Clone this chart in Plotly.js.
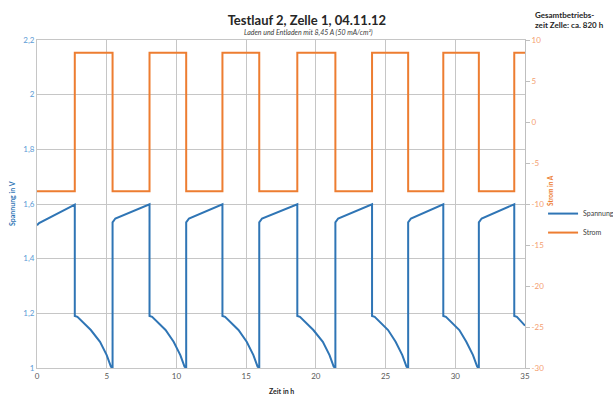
<!DOCTYPE html>
<html>
<head>
<meta charset="utf-8">
<script src="https://cdn.plot.ly/plotly-3.0.1.min.js"></script>
<style>html,body{margin:0;padding:0;background:#fff;}#chart{width:613px;height:401px;}</style>
</head>
<body>
<div id="chart"></div>
<script>
// Spannung (V) over Zeit (h)
var timeV = [
  0, 0.15, 2.71,
  2.71, 2.9, 3.26, 3.86, 4.52, 5.0, 5.3, 5.42,
  5.42, 5.62, 8.07,
  8.07, 8.26, 8.62, 9.22, 9.8, 10.28, 10.58, 10.7,
  10.7, 10.9, 13.3,
  13.3, 13.49, 13.85, 14.45, 15.04, 15.52, 15.82, 15.94,
  15.94, 16.14, 18.67,
  18.67, 18.86, 19.22, 19.82, 20.5, 20.98, 21.28, 21.4,
  21.4, 21.6, 24.03,
  24.03, 24.22, 24.58, 25.18, 25.72, 26.2, 26.5, 26.62,
  26.62, 26.82, 29.14,
  29.14, 29.33, 29.69, 30.29, 30.79, 31.27, 31.57, 31.69,
  31.69, 31.89, 34.23,
  34.23, 34.42, 34.78, 35
];
var voltage = [
  1.522, 1.53, 1.598,
  1.19, 1.187, 1.169, 1.139, 1.096, 1.047, 1.005, 1.0,
  1.533, 1.547, 1.599,
  1.19, 1.187, 1.169, 1.139, 1.096, 1.047, 1.005, 1.0,
  1.533, 1.547, 1.599,
  1.19, 1.187, 1.169, 1.139, 1.096, 1.047, 1.005, 1.0,
  1.533, 1.547, 1.599,
  1.19, 1.187, 1.169, 1.139, 1.096, 1.047, 1.005, 1.0,
  1.533, 1.547, 1.599,
  1.19, 1.187, 1.169, 1.139, 1.096, 1.047, 1.005, 1.0,
  1.533, 1.547, 1.599,
  1.19, 1.187, 1.169, 1.139, 1.096, 1.047, 1.005, 1.0,
  1.533, 1.547, 1.599,
  1.19, 1.187, 1.167, 1.155
];
// Strom (A) step changes over Zeit (h)
var timeI = [0, 2.71, 5.42, 8.07, 10.7, 13.3, 15.94, 18.67, 21.4, 24.03, 26.62, 29.14, 31.69, 34.23, 35];
var current = [-8.45, 8.45, -8.45, 8.45, -8.45, 8.45, -8.45, 8.45, -8.45, 8.45, -8.45, 8.45, -8.45, 8.45, 8.45];

var xTicks = [0, 5, 10, 15, 20, 25, 30, 35];
var yTicksV = [1, 1.2, 1.4, 1.6, 1.8, 2, 2.2];
var yTickTextV = ['1', '1,2', '1,4', '1,6', '1,8', '2', '2,2'];
var yTicksI = [-30, -25, -20, -15, -10, -5, 0, 5, 10];

var blue = '#2f75b5';
var orange = '#ed7d31';
var fnt = 'Lato, "Open Sans", sans-serif';

var traces = [
  {x: timeV, y: voltage, type: 'scatter', mode: 'lines', name: 'Spannung',
   line: {color: blue, width: 2}, yaxis: 'y'},
  {x: timeI, y: current, type: 'scatter', mode: 'lines', name: 'Strom',
   line: {color: orange, width: 2, shape: 'hv'}, yaxis: 'y2'}
];

var layout = {
  width: 613, height: 401,
  margin: {l: 37, r: 88, t: 40, b: 33, autoexpand: false},
  paper_bgcolor: '#fff', plot_bgcolor: '#fff',
  separators: ', ',
  font: {family: fnt, size: 8, color: '#404040'},
  showlegend: true,
  legend: {x: 1.037, y: 0.515, xanchor: 'left', yanchor: 'top',
           font: {family: fnt, size: 7, color: '#404040'}, bgcolor: 'rgba(0,0,0,0)',
           itemwidth: 30, tracegroupgap: 0},
  title: {text: '<b>Testlauf 2, Zelle 1, 04.11.12</b>', x: 0.553, xref: 'paper', xanchor: 'center',
          y: 15, yref: 'container', yanchor: 'middle',
          font: {family: fnt, size: 13, color: '#262626'}},
  xaxis: {range: [0, 35], tickvals: xTicks, ticktext: xTicks.map(String),
          showgrid: true, gridcolor: '#c6c6c6', gridwidth: 1, zeroline: false,
          showline: true, linecolor: '#c6c6c6', mirror: true, ticks: '',
          tickfont: {family: fnt, size: 8, color: '#595959'}},
  yaxis: {range: [1, 2.2], tickvals: yTicksV, ticktext: yTickTextV,
          showgrid: true, gridcolor: '#c6c6c6', gridwidth: 1, zeroline: false,
          showline: true, linecolor: '#c6c6c6', ticks: '',
          tickfont: {family: fnt, size: 8, color: '#5b9bd5'}},
  yaxis2: {range: [-30, 10], tickvals: yTicksI, ticktext: yTicksI.map(String),
           overlaying: 'y', side: 'right', showgrid: false, zeroline: false,
           showline: true, linecolor: '#bfbfbf', ticks: 'outside', ticklen: 4, tickcolor: '#bfbfbf',
           tickfont: {family: fnt, size: 8, color: '#f4a070'}},
  annotations: [
    {text: '<i>Laden und Entladen mit 8,45 A (50 mA/cm²)</i>', xref: 'paper', yref: 'paper',
     x: 0.556, y: 1.0, yshift: 8, xanchor: 'center', yanchor: 'middle', showarrow: false,
     font: {family: fnt, size: 7, color: '#404040'}},
    {text: '<b>Gesamtbetriebs-<br>zeit Zelle: ca. 820 h</b>', xref: 'paper', yref: 'paper',
     x: 1.0, xshift: 8, y: 1.0, yshift: 20, xanchor: 'left', yanchor: 'middle', align: 'left',
     showarrow: false, font: {family: fnt, size: 8, color: '#262626'}},
    {text: '<b>Spannung in V</b>', xref: 'paper', yref: 'paper', x: 0, xshift: -25,
     y: 0.5, xanchor: 'center', yanchor: 'middle', textangle: -90, showarrow: false,
     font: {family: fnt, size: 7, color: '#2f75b5'}},
    {text: '<b>Strom in A</b>', xref: 'paper', yref: 'paper', x: 1, xshift: 26,
     y: 0.54, xanchor: 'center', yanchor: 'middle', textangle: -90, showarrow: false,
     font: {family: fnt, size: 6.5, color: '#ed7d31'}},
    {text: '<b>Zeit in h</b>', xref: 'paper', yref: 'paper', x: 0.5, y: 0, yshift: -23,
     xanchor: 'center', yanchor: 'middle', showarrow: false,
     font: {family: fnt, size: 7, color: '#262626'}}
  ]
};

Plotly.newPlot('chart', traces, layout, {displayModeBar: false, staticPlot: true});
</script>
</body>
</html>
